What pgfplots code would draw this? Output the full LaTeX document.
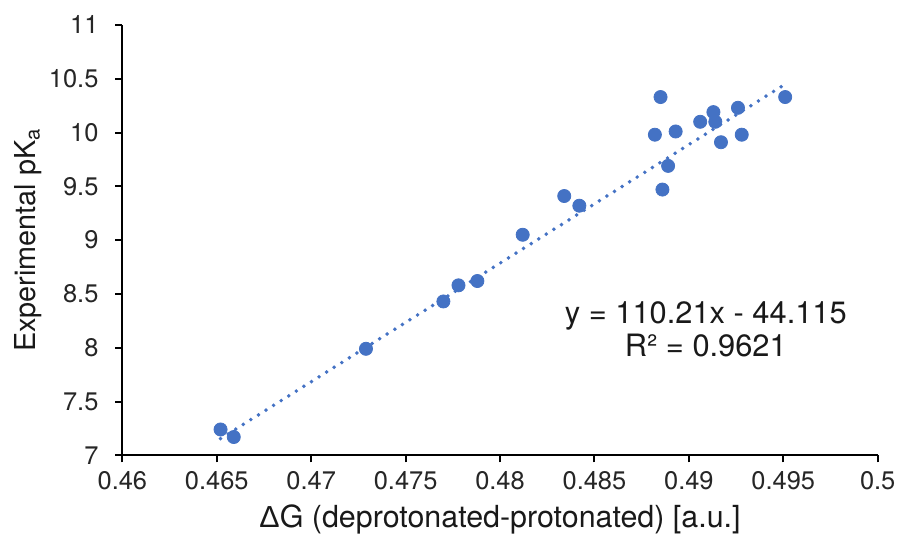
\documentclass[border=0pt]{standalone}
\usepackage{pgfplots}
\pgfplotsset{compat=1.18}
\usepackage{fontspec}
\setmainfont{TeX Gyre Heros}
\newfontfamily\libsans{Liberation Sans}
\definecolor{xlblue}{RGB}{68,114,196}

\begin{document}
\begin{tikzpicture}
\begin{axis}[
  scale only axis,
  width=380pt, height=216.5pt,
  xmin=0.46, xmax=0.5,
  ymin=7, ymax=11,
  axis x line=bottom, axis y line=left,
  axis line style={-, line width=1pt},
  tick style={line width=1pt, black},
  tick align=outside,
  major tick length=3.5pt,
  xtick distance=0.005,
  ytick distance=0.5,
  scaled x ticks=false,
  /pgf/number format/assume math mode=true,
  xticklabel style={/pgf/number format/fixed, /pgf/number format/precision=3,
    font=\fontsize{12.8}{14}\selectfont, text=black!85, yshift=-1.2pt},
  yticklabel style={/pgf/number format/fixed, /pgf/number format/precision=1,
    font=\fontsize{12.8}{14}\selectfont, text=black!85, xshift=-5pt},
  xlabel={{\libsans Δ}G (deprotonated-protonated) [a.u.]},
  ylabel={Experimental pK\textsubscript{a}},
  xlabel style={at={(axis description cs:0.5,-0.150)}, anchor=center,
    font=\fontsize{15.3}{17}\selectfont, text=black!90},
  ylabel style={at={(axis description cs:-0.125,0.5)}, anchor=center,
    font=\fontsize{14.5}{17}\selectfont, text=black!90},
  clip=false,
]
% Trendline (Excel linear fit, drawn over data range)
\addplot[xlblue, line width=2pt, line cap=round, dash pattern=on 0pt off 4.5pt]
  coordinates {(0.4652,7.155)(0.4951,10.450)};
% Data points
\addplot[only marks, mark=*, mark size=3.3pt, xlblue, mark options={draw=xlblue, fill=xlblue}]
  coordinates {
  (0.4652,7.24) (0.4659,7.17) (0.4729,7.99) (0.4770,8.43)
  (0.4778,8.58) (0.4788,8.62) (0.4812,9.05) (0.4834,9.41)
  (0.4842,9.32) (0.4882,9.98) (0.4885,10.33) (0.4886,9.47)
  (0.4889,9.69) (0.4893,10.01) (0.4906,10.10) (0.4913,10.19)
  (0.4914,10.10) (0.4917,9.91) (0.4926,10.23) (0.4928,9.98)
  (0.4951,10.33)
  };
\node[align=center, font=\fontsize{15.5}{16.5}\selectfont, text=black!90]
  at (axis cs:0.4909,8.17) {y = 110.21x - 44.115\\R² = 0.9621};
\path (rel axis cs:-0.162,-0.180) rectangle (rel axis cs:1.025,1.058);
\end{axis}
\end{tikzpicture}
\end{document}
